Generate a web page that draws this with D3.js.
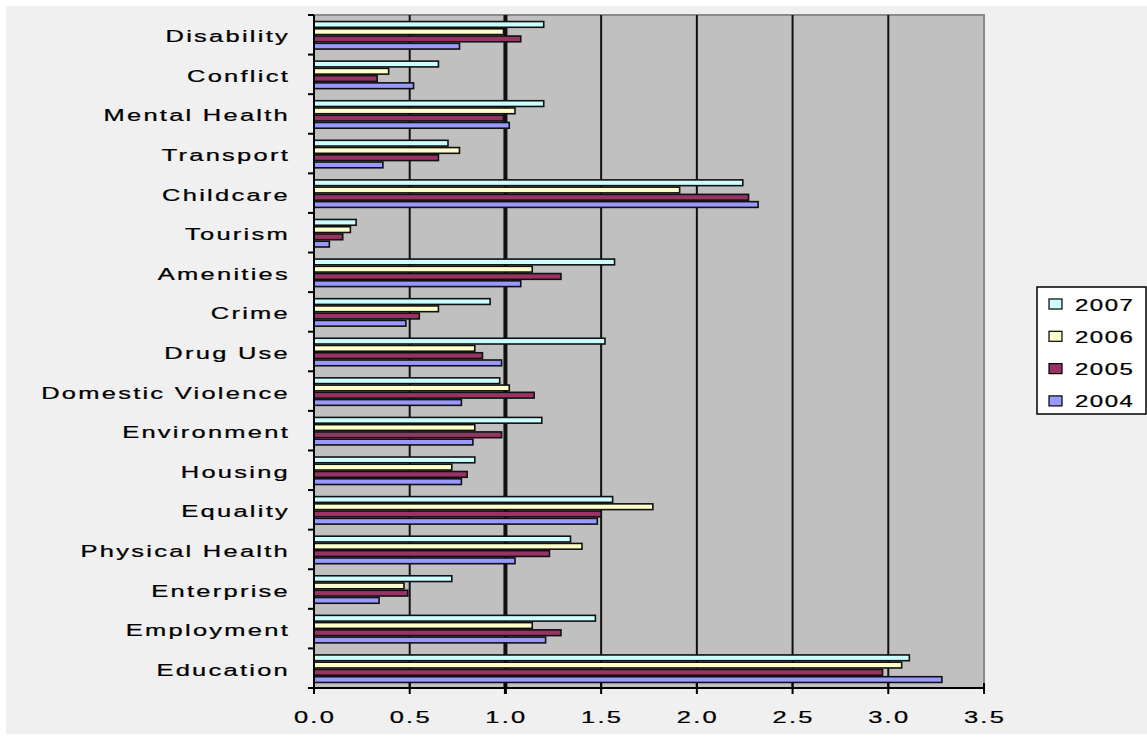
<!DOCTYPE html>
<html>
<head>
<meta charset="utf-8">
<script src="https://cdn.jsdelivr.net/npm/d3@7"></script>
<style>
  html, body { margin: 0; padding: 0; background: #ffffff; }
  svg { display: block; }
  text { font-family: "Liberation Sans", Arial, sans-serif; font-size: 17px; fill: #000; letter-spacing: 1.5px; stroke: #000; stroke-width: 0.25px; }
</style>
</head>
<body>
<svg id="chart" width="1147" height="738"></svg>
<script>
// Categories, listed top to bottom
const categories = ["Disability", "Conflict", "Mental Health", "Transport", "Childcare", "Tourism",
  "Amenities", "Crime", "Drug Use", "Domestic Violence", "Environment", "Housing", "Equality",
  "Physical Health", "Enterprise", "Employment", "Education"];

// Yearly scores per category
const v2007 = [1.20, 0.65, 1.20, 0.70, 2.24, 0.22, 1.57, 0.92, 1.52, 0.97, 1.19, 0.84, 1.56, 1.34, 0.72, 1.47, 3.11];
const v2006 = [0.99, 0.39, 1.05, 0.76, 1.91, 0.19, 1.14, 0.65, 0.84, 1.02, 0.84, 0.72, 1.77, 1.40, 0.47, 1.14, 3.07];
const v2005 = [1.08, 0.33, 0.99, 0.65, 2.27, 0.15, 1.29, 0.55, 0.88, 1.15, 0.98, 0.80, 1.50, 1.23, 0.49, 1.29, 2.97];
const v2004 = [0.76, 0.52, 1.02, 0.36, 2.32, 0.08, 1.08, 0.48, 0.98, 0.77, 0.83, 0.77, 1.48, 1.05, 0.34, 1.21, 3.28];

const years = ["2007", "2006", "2005", "2004"];
const xTicks = [0, 0.5, 1.0, 1.5, 2.0, 2.5, 3.0, 3.5];

const seriesValues = { "2007": v2007, "2006": v2006, "2005": v2005, "2004": v2004 };
const colors = { "2007": "#CCFFFF", "2006": "#FFFFCC", "2005": "#993366", "2004": "#9999FF" };

const svg = d3.select("#chart");
const plot = { left: 314, right: 984, top: 15, bottom: 688 };
const SX = 1.5; // horizontal stretch of the bitmap-style labels

// Chart area background
svg.append("rect").attr("x", 6).attr("y", 6).attr("width", 1141).attr("height", 728).attr("fill", "#F0F0F0");

const x = d3.scaleLinear().domain([0, 3.5]).range([plot.left, plot.right]);
const y = d3.scaleBand().domain(categories).range([plot.top, plot.bottom]).paddingInner(0).paddingOuter(0);
const inner = d3.scaleBand().domain(years).range([0, 29]).padding(0);
const groupOffset = (y.bandwidth() - 29) / 2 + 0.5;

// Plot area
svg.append("rect")
  .attr("x", plot.left).attr("y", plot.top)
  .attr("width", plot.right - plot.left).attr("height", plot.bottom - plot.top)
  .attr("fill", "#C0C0C0").attr("stroke", "#8a8a8a").attr("stroke-width", 2);

// Vertical gridlines
svg.append("g").selectAll("line").data(xTicks.filter(d => d > 0 && d < 3.5)).join("line")
  .attr("x1", d => x(d)).attr("x2", d => x(d))
  .attr("y1", plot.top).attr("y2", plot.bottom)
  .attr("stroke", "#111").attr("stroke-width", d => d === 1 ? 4 : 2);

// Bars
const rows = categories.map((c, i) => ({ c, i }));
const groups = svg.append("g").selectAll("g").data(rows).join("g")
  .attr("transform", d => `translate(0,${y(d.c) + groupOffset})`);
groups.selectAll("rect").data(d => years.map(yr => ({ yr, v: seriesValues[yr][d.i] }))).join("rect")
  .attr("x", x(0))
  .attr("y", d => inner(d.yr) + 0.75)
  .attr("width", d => x(d.v) - x(0))
  .attr("height", inner.bandwidth() - 1.5)
  .attr("fill", d => colors[d.yr])
  .attr("stroke", "#111").attr("stroke-width", 1.6);

// Axes lines
svg.append("line").attr("x1", plot.left).attr("x2", plot.left).attr("y1", plot.top).attr("y2", plot.bottom)
  .attr("stroke", "#000").attr("stroke-width", 2);
svg.append("line").attr("x1", plot.left).attr("x2", plot.right).attr("y1", plot.bottom).attr("y2", plot.bottom)
  .attr("stroke", "#000").attr("stroke-width", 2);

// Y ticks at category boundaries
const bounds = categories.map(c => y(c)).concat([plot.bottom]);
svg.append("g").selectAll("line").data(bounds).join("line")
  .attr("x1", plot.left - 6).attr("x2", plot.left).attr("y1", d => d).attr("y2", d => d)
  .attr("stroke", "#000").attr("stroke-width", 2);

// X ticks
svg.append("g").selectAll("line").data(xTicks).join("line")
  .attr("x1", d => x(d)).attr("x2", d => x(d)).attr("y1", plot.bottom - 5).attr("y2", plot.bottom + 6)
  .attr("stroke", "#000").attr("stroke-width", d => d === 1 ? 3 : 2);

// Category labels
svg.append("g").selectAll("g").data(categories).join("g")
  .attr("transform", d => `translate(290,${y(d) + y.bandwidth() / 2 + 7.5}) scale(${SX},1)`)
  .append("text").attr("text-anchor", "end").text(d => d);

// X tick labels
svg.append("g").selectAll("g").data(xTicks).join("g")
  .attr("transform", d => `translate(${x(d) + 1},723) scale(${SX},1)`)
  .append("text").attr("text-anchor", "middle").text(d => d3.format(".1f")(d));

// Legend
const legend = svg.append("g");
legend.append("rect").attr("x", 1037).attr("y", 287).attr("width", 109).attr("height", 127)
  .attr("fill", "#FFFFFF").attr("stroke", "#000").attr("stroke-width", 1.5);
const items = legend.selectAll("g").data(years).join("g")
  .attr("transform", (d, i) => `translate(1049,${304 + i * 32.3})`);
items.append("rect").attr("x", 0).attr("y", -5).attr("width", 13).attr("height", 10)
  .attr("fill", d => colors[d]).attr("stroke", "#000").attr("stroke-width", 1.2);
items.append("g").attr("transform", `translate(26,6.5) scale(${SX},1)`)
  .append("text").style("font-size", "16px").style("letter-spacing", "1px").text(d => d);
</script>
</body>
</html>
